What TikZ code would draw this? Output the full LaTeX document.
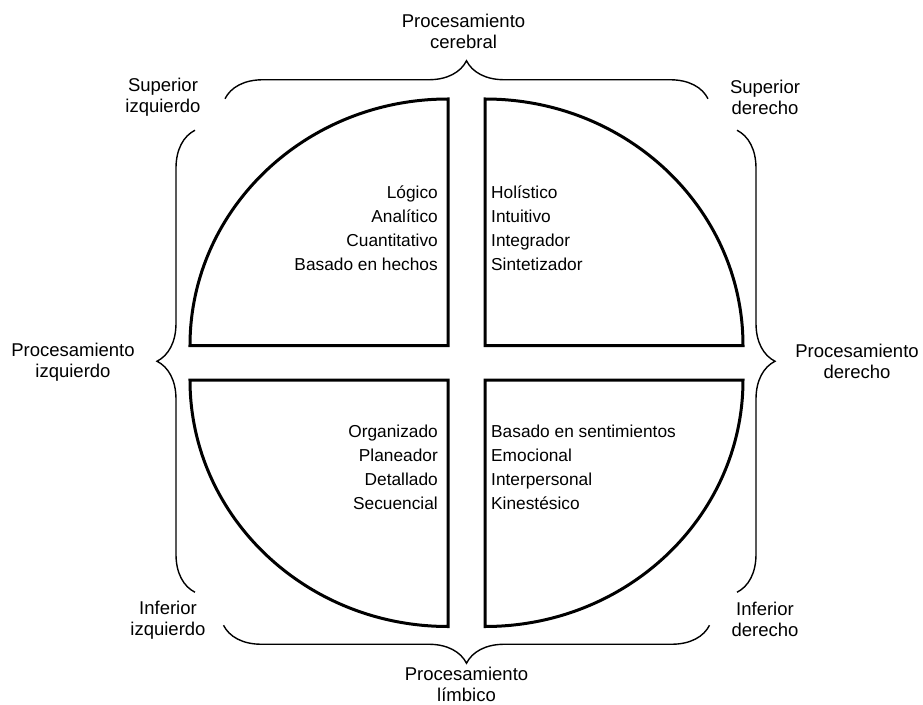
\documentclass[tikz,border=0pt]{standalone}
\usepackage{fontspec}
\setmainfont{Liberation Sans}
\usetikzlibrary{decorations.pathreplacing}

\tikzset{
  quadrant/.style={black,line width=3pt},
  curly/.style={black,line width=1.4pt,decorate,decoration={brace,amplitude=38pt}},
  sidelabel/.style={align=center,inner sep=0pt,font=\fontsize{18.5}{21}\selectfont},
  traits/.style={inner sep=0pt,font=\fontsize{17.3}{24}\selectfont}
}

\begin{document}
\begin{tikzpicture}[x=1pt,y=1pt]
  \pgfmathsetmacro\hgap{18.5}   % half of the vertical gap
  \pgfmathsetmacro\vgap{17.25}  % half of the horizontal gap
  \pgfmathsetmacro\rx{258}
  \pgfmathsetmacro\ry{246.5}

  \useasboundingbox (-466.5,-341.25) rectangle (456.5,362.75);

% the four quadrants
  \draw[quadrant] (-\hgap,\vgap+\ry) arc[start angle=90,end angle=180,x radius=\rx,y radius=\ry]
                  -- (-\hgap,\vgap) -- cycle;
  \draw[quadrant] (\hgap,\vgap+\ry) arc[start angle=90,end angle=0,x radius=\rx,y radius=\ry]
                  -- (\hgap,\vgap) -- cycle;
  \draw[quadrant] (-\hgap,-\vgap-\ry) arc[start angle=270,end angle=180,x radius=\rx,y radius=\ry]
                  -- (-\hgap,-\vgap) -- cycle;
  \draw[quadrant] (\hgap,-\vgap-\ry) arc[start angle=270,end angle=360,x radius=\rx,y radius=\ry]
                  -- (\hgap,-\vgap) -- cycle;

% traits inside the quadrants
  \node[traits,align=right,anchor=east] (tl) at (-28.5,134.75)
       {Lógico\\Analítico\\Cuantitativo\\Basado en hechos};
  \node[traits,align=left,anchor=west] (tr) at (24.5,134.75)
       {Holístico\\Intuitivo\\Integrador\\Sintetizador};
  \node[traits,align=right,anchor=east] (bl) at (-28.5,-105)
       {Organizado\\Planeador\\Detallado\\Secuencial};
  \node[traits,align=left,anchor=west] (br) at (24.5,-105)
       {Basado en sentimientos\\Emocional\\Interpersonal\\Kinestésico};

% braces
  \coordinate (topA) at (-241.5,264);
  \coordinate (topB) at (241.5,264);
  \coordinate (botA) at (243,-262.5);
  \coordinate (botB) at (-243,-262.5);
  \coordinate (lefA) at (-271.5,-229.5);
  \coordinate (lefB) at (-271.5,232.5);
  \coordinate (rigA) at (270.5,232.5);
  \coordinate (rigB) at (270.5,-229.5);
  \draw[curly] (topA) -- (topB);
  \draw[curly] (botA) -- (botB);
  \draw[curly] (lefA) -- (lefB);
  \draw[curly] (rigA) -- (rigB);

% labels
  \node[sidelabel] (cer) at (-3,331) {Procesamiento\\cerebral};
  \node[sidelabel] (lim) at (0,-322) {Procesamiento\\límbico};
  \node[sidelabel] (izq) at (-393.5,1) {Procesamiento\\izquierdo};
  \node[sidelabel] (der) at (390.5,1) {Procesamiento\\derecho};
  \node[sidelabel] (supi) at (-303.5,265.5) {Superior\\izquierdo};
  \node[sidelabel] (supd) at (298.5,265.5) {Superior\\derecho};
  \node[sidelabel] (infi) at (-298.5,-257) {Inferior\\izquierdo};
  \node[sidelabel] (infd) at (298.5,-257) {Inferior\\derecho};
\end{tikzpicture}
\end{document}
